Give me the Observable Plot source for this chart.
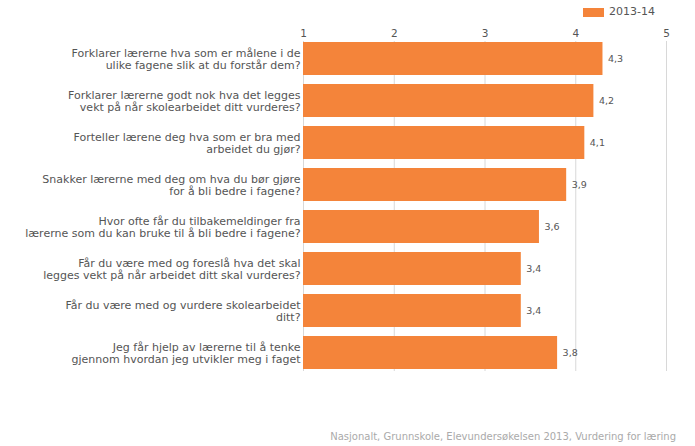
<!DOCTYPE html>
<html>
<head>
<meta charset="utf-8">
<script src="https://cdn.jsdelivr.net/npm/d3@7"></script>
<script src="https://cdn.jsdelivr.net/npm/@observablehq/plot@0.6"></script>
<style>
  html, body { margin: 0; padding: 0; background: #fff; }
  body { width: 695px; height: 446px; overflow: hidden; font-family: "DejaVu Sans", Verdana, sans-serif; }
  #legend { position: relative; height: 22px; }
  #legend .sw { position: absolute; left: 583px; top: 8px; width: 21px; height: 9px; background: #f4843a; }
  #legend .lb { position: absolute; left: 609px; top: 4px; font-size: 11px; line-height: 16px; color: #555; }
  #caption { height: 24px; text-align: right; padding-right: 19px; padding-top: 8px; box-sizing: border-box; font-size: 10px; line-height: 14px; color: #aaa; }
  svg { display: block; }
</style>
</head>
<body>
<div id="legend"><div class="sw"></div><div class="lb">2013-14</div></div>
<div id="chart"></div>
<div id="caption">Nasjonalt, Grunnskole, Elevundersøkelsen 2013, Vurdering for læring</div>
<script>
const seriesName = "2013-14";
const questions = [
  "Forklarer lærerne hva som er målene i de\nulike fagene slik at du forstår dem?",
  "Forklarer lærerne godt nok hva det legges\nvekt på når skolearbeidet ditt vurderes?",
  "Forteller lærene deg hva som er bra med\narbeidet du gjør?",
  "Snakker lærerne med deg om hva du bør gjøre\nfor å bli bedre i fagene?",
  "Hvor ofte får du tilbakemeldinger fra\nlærerne som du kan bruke til å bli bedre i fagene?",
  "Får du være med og foreslå hva det skal\nlegges vekt på når arbeidet ditt skal vurderes?",
  "Får du være med og vurdere skolearbeidet\nditt?",
  "Jeg får hjelp av lærerne til å tenke\ngjennom hvordan jeg utvikler meg i faget"
];
const values = [4.3, 4.2, 4.1, 3.9, 3.6, 3.4, 3.4, 3.8];
const xTicks = [1, 2, 3, 4, 5];

const data = questions.map((q, i) => ({q, v: values[i]}));
const fmt = v => v.toFixed(1).replace(".", ",");

const chart = Plot.plot({
  width: 695,
  height: 400,
  marginTop: 19,
  marginBottom: 51,
  marginLeft: 303,
  marginRight: 29,
  style: {fontFamily: "DejaVu Sans, Verdana, sans-serif", color: "#555", background: "#fff"},
  x: {domain: [1, 5], ticks: xTicks},
  y: {domain: questions, paddingInner: 0.21, paddingOuter: 0},
  marks: [
    Plot.gridX(xTicks, {stroke: "#d8d8d8", strokeOpacity: 1, strokeWidth: 1}),
    Plot.barX(data, {y: "q", x1: 1, x2: "v", fill: "#f4843a"}),
    Plot.text(data, {y: "q", x: "v", text: d => fmt(d.v), textAnchor: "start", dx: 5, fontSize: 9.5, fill: "#555"}),
    Plot.axisX(xTicks, {anchor: "top", tickSize: 0, tickPadding: 5, fontSize: 10.5, label: null, tickFormat: d => String(d), fill: "#555"}),
    Plot.axisY({tickSize: 0, tickPadding: 3, fontSize: 11, lineHeight: 1.1, label: null, fill: "#555"})
  ]
});
document.getElementById("chart").appendChild(chart);
</script>
</body>
</html>
